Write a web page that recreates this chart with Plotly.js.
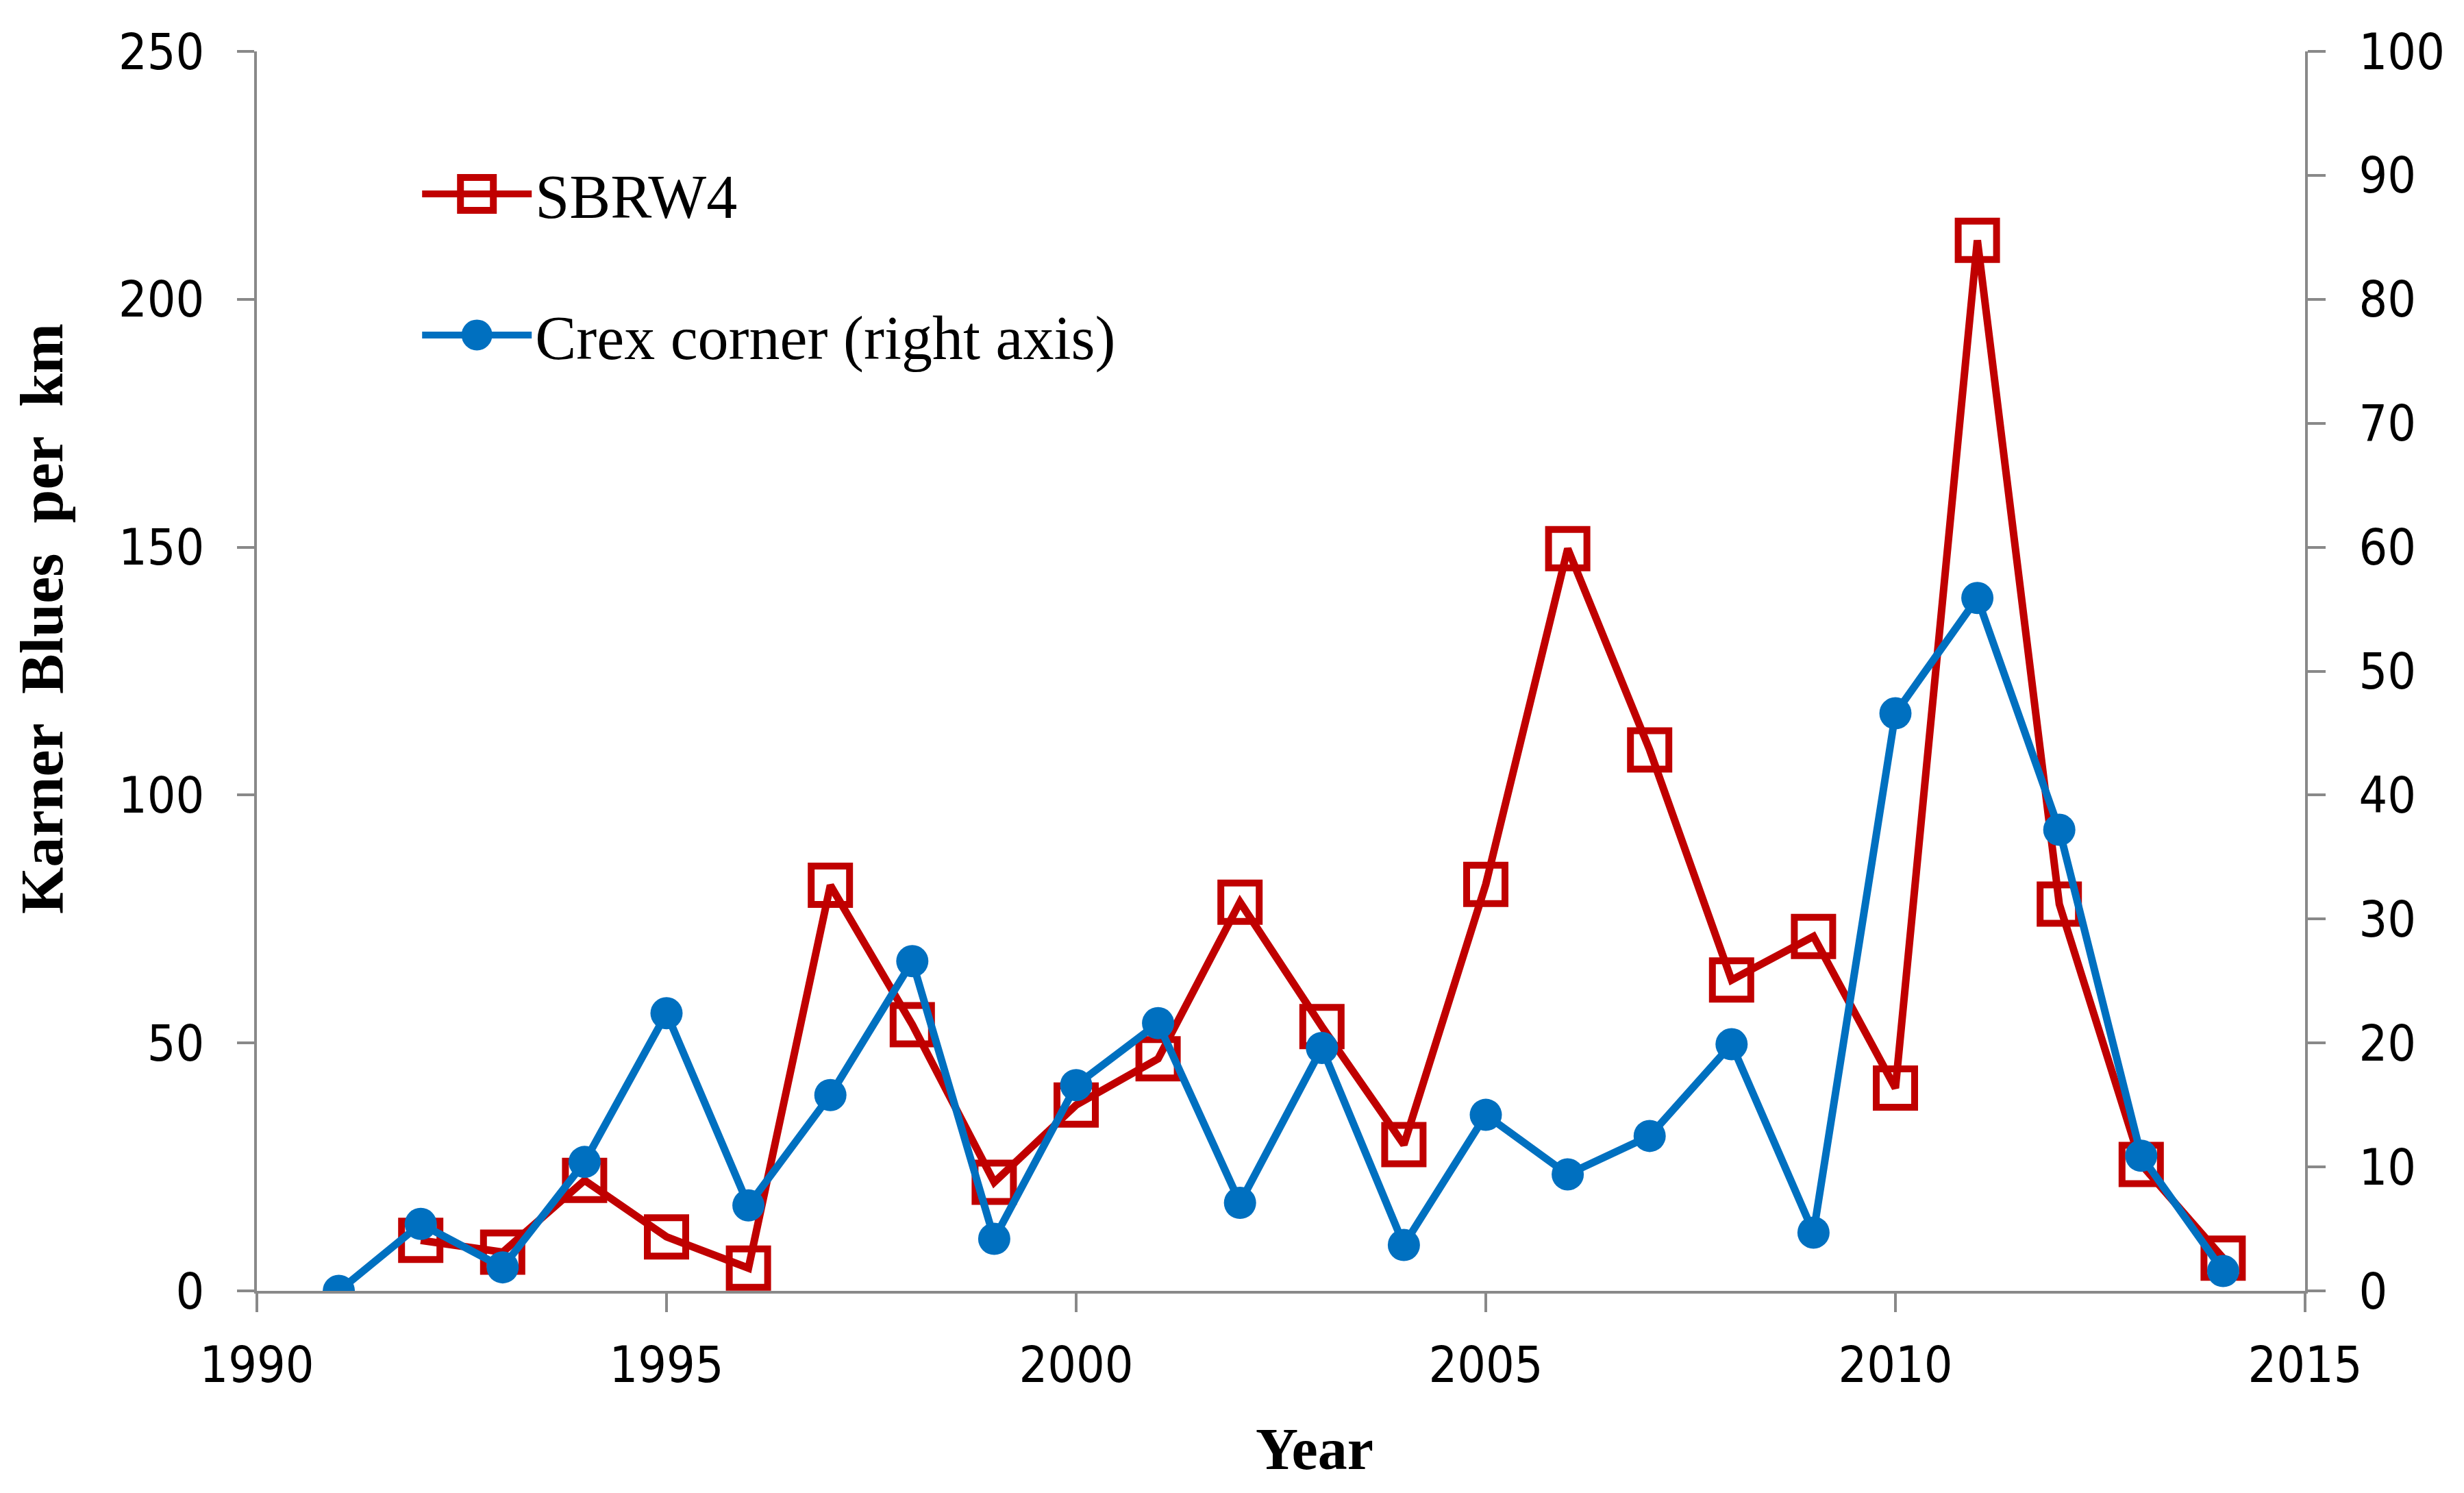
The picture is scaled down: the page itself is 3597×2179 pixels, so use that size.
<!DOCTYPE html>
<html>
<head>
<meta charset="utf-8">
<script src="https://cdn.plot.ly/plotly-3.0.1.min.js"></script>
<style>
  html, body { margin: 0; padding: 0; background: #ffffff; }
  #chart { width: 3597px; height: 2179px; }
</style>
</head>
<body>
<div id="chart"></div>
<script>
// ---- data ----
const years = [1991, 1992, 1993, 1994, 1995, 1996, 1997, 1998, 1999, 2000, 2001, 2002,
               2003, 2004, 2005, 2006, 2007, 2008, 2009, 2010, 2011, 2012, 2013, 2014];
// SBRW4, Karner Blues per km (left axis); no survey value in 1991
const sbrw4 = [null, 10.2, 7.8, 22.3, 10.9, 4.6, 81.8, 53.7, 21.9, 37.5, 46.8, 78.4,
               53.3, 29.5, 82.0, 149.7, 109.1, 62.7, 71.5, 40.9, 211.9, 78.0, 25.5, 6.6];
// Crex corner (right axis)
const crex = [0, 5.4, 1.9, 10.4, 22.4, 6.9, 15.8, 26.6, 4.2, 16.6, 21.6, 7.1,
              19.6, 3.7, 14.2, 9.4, 12.5, 19.9, 4.7, 46.6, 55.9, 37.2, 10.9, 1.6];

const seriesNames = ["SBRW4", "Crex corner (right axis)"];
const yTitle = "Karner  Blues  per  km";
const xTitle = "Year";

const RED = "#C00000";
const BLUE = "#0070C0";
const AXIS = "#898989";
const tickFont = { family: "DejaVu Sans Condensed, DejaVu Sans, sans-serif", size: 73, color: "#000000" };
const serif = "Liberation Serif, Times New Roman, serif";

const traces = [
  {
    x: years, y: sbrw4, name: seriesNames[0], type: "scatter", mode: "lines+markers",
    yaxis: "y", legendgroup: "a", connectgaps: false,
    line: { color: RED, width: 11 },
    marker: { symbol: "square-open", size: 56, color: RED, line: { color: RED, width: 10 } }
  },
  {
    x: years, y: crex, name: seriesNames[1], type: "scatter", mode: "lines+markers",
    yaxis: "y2", legendgroup: "b",
    line: { color: BLUE, width: 11 },
    marker: { symbol: "circle", size: 47, color: BLUE, line: { width: 0 } }
  }
];

const axisCommon = {
  showline: true, linecolor: AXIS, linewidth: 4,
  ticks: "outside", tickcolor: AXIS, tickwidth: 4,
  showgrid: false, zeroline: false, tickfont: tickFont
};

const layout = {
  width: 3597, height: 2179,
  margin: { l: 375, r: 232, t: 75, b: 295, pad: 0 },
  paper_bgcolor: "#ffffff", plot_bgcolor: "#ffffff",
  showlegend: true,
  legend: {
    x: 0.079, y: 0.921, xanchor: "left", yanchor: "top",
    bgcolor: "rgba(0,0,0,0)", borderwidth: 0,
    font: { family: serif, size: 90, color: "#000000" },
    itemwidth: 160, traceorder: "grouped", tracegroupgap: 86
  },
  xaxis: Object.assign({}, axisCommon, {
    range: [1990, 2015], tick0: 1990, dtick: 5, ticklen: 27,
    ticklabelstandoff: 14
  }),
  yaxis: Object.assign({}, axisCommon, {
    range: [0, 250], tick0: 0, dtick: 50, ticklen: 25,
    ticklabelstandoff: 33
  }),
  yaxis2: Object.assign({}, axisCommon, {
    range: [0, 100], tick0: 0, dtick: 10, ticklen: 26,
    overlaying: "y", side: "right", anchor: "x",
    ticklabelstandoff: 34
  }),
  annotations: [
    {
      text: yTitle, xref: "paper", yref: "paper", x: -0.1047, y: 0.5423,
      xanchor: "center", yanchor: "middle", textangle: -90, showarrow: false,
      font: { family: serif, size: 88, color: "#000000", weight: "bold" }
    },
    {
      text: xTitle, xref: "paper", yref: "paper", x: 0.5164, y: -0.1277,
      xanchor: "center", yanchor: "middle", showarrow: false,
      font: { family: serif, size: 86, color: "#000000", weight: "bold" }
    }
  ]
};

// legend symbols are capped at 16px by Plotly; enlarge them to match the chart's markers
const legendSymbolScale = { "SBRW4": 3.0, "Crex corner (right axis)": 2.8125 };
const legendSymbolStroke = { "SBRW4": 10 / 3.0 };

Plotly.newPlot("chart", traces, layout, { displayModeBar: false, staticPlot: true }).then(function (gd) {
  const items = gd.querySelectorAll("g.legend g.traces");
  items.forEach(function (g, i) {
    let name = seriesNames[i];
    try { name = g.__data__[0][0].trace.name; } catch (e) {}
    const k = legendSymbolScale[name];
    if (!k) return;
    g.querySelectorAll("path.scatterpts").forEach(function (p) {
      const t = p.getAttribute("transform") || "";
      p.setAttribute("transform", t + " scale(" + k + ")");
      if (legendSymbolStroke[name]) p.style.strokeWidth = legendSymbolStroke[name] + "px";
    });
  });
});
</script>
</body>
</html>
